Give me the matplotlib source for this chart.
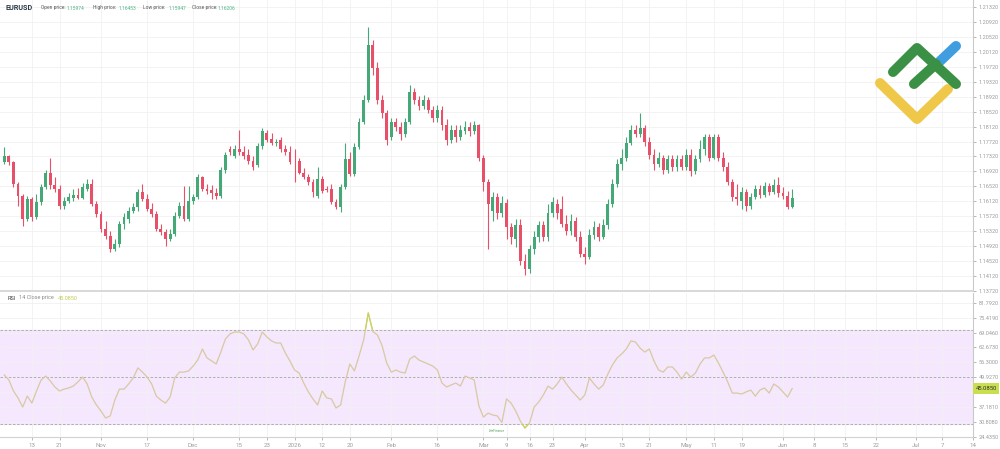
import numpy as np
import pandas as pd
import matplotlib
matplotlib.use("Agg")
import matplotlib.pyplot as plt
from matplotlib.lines import Line2D
from matplotlib.patches import Rectangle

# daily EURUSD bars (weekends, Dec 25 and Jan 1 skipped)
symbol = "EURUSD"
first_day = "2025-10-03"
last_day = "2026-06-03"
holidays = ["2025-12-25", "2026-01-01"]

opens = [
    1.1716, 1.1732, 1.1716, 1.1657, 1.1625, 1.1564, 1.1617, 1.1569, 1.1609, 1.1649,
    1.1689, 1.1655, 1.1644, 1.1599, 1.1612, 1.1620, 1.1628, 1.1620, 1.1644, 1.1657,
    1.1604, 1.1577, 1.1537, 1.1519, 1.1484, 1.1497, 1.1551, 1.1564, 1.1585, 1.1596,
    1.1636, 1.1617, 1.1591, 1.1577, 1.1537, 1.1529, 1.1511, 1.1524, 1.1572, 1.1599,
    1.1564, 1.1612, 1.1623, 1.1676, 1.1644, 1.1641, 1.1633, 1.1625, 1.1697, 1.1751,
    1.1732, 1.1753, 1.1745, 1.1737, 1.1721, 1.1708, 1.1759, 1.1796, 1.1780, 1.1767,
    1.1775, 1.1753, 1.1745, 1.1721, 1.1719, 1.1689, 1.1676, 1.1663, 1.1625, 1.1671,
    1.1644, 1.1644, 1.1609, 1.1596, 1.1649, 1.1724, 1.1684, 1.1756, 1.1825, 1.1884,
    1.2031, 1.1969, 1.1884, 1.1849, 1.1783, 1.1823, 1.1812, 1.1791, 1.1825, 1.1905,
    1.1884, 1.1868, 1.1884, 1.1857, 1.1836, 1.1857, 1.1817, 1.1777, 1.1804, 1.1783,
    1.1801, 1.1812, 1.1799, 1.1815, 1.1729, 1.1663, 1.1585, 1.1623, 1.1580, 1.1607,
    1.1543, 1.1511, 1.1548, 1.1452, 1.1431, 1.1484, 1.1516, 1.1548, 1.1516, 1.1580,
    1.1604, 1.1591, 1.1551, 1.1532, 1.1559, 1.1516, 1.1471, 1.1463, 1.1521, 1.1543,
    1.1516, 1.1548, 1.1604, 1.1657, 1.1711, 1.1729, 1.1769, 1.1804, 1.1791, 1.1809,
    1.1772, 1.1737, 1.1711, 1.1729, 1.1697, 1.1724, 1.1703, 1.1724, 1.1705, 1.1737,
    1.1692, 1.1724, 1.1751, 1.1783, 1.1729, 1.1785, 1.1729, 1.1703, 1.1663, 1.1623,
    1.1612, 1.1636, 1.1599, 1.1623, 1.1644, 1.1628, 1.1652, 1.1636, 1.1655, 1.1633,
    1.1625, 1.15974,
]
highs = [
    1.1756, 1.1737, 1.1721, 1.1663, 1.1631, 1.1625, 1.1623, 1.1631, 1.1657, 1.1697,
    1.1729, 1.1676, 1.1655, 1.1623, 1.1633, 1.1644, 1.1647, 1.1660, 1.1671, 1.1671,
    1.1612, 1.1585, 1.1559, 1.1532, 1.1511, 1.1559, 1.1580, 1.1596, 1.1607, 1.1644,
    1.1657, 1.1631, 1.1607, 1.1585, 1.1551, 1.1537, 1.1537, 1.1583, 1.1609, 1.1652,
    1.1652, 1.1631, 1.1684, 1.1681, 1.1657, 1.1655, 1.1647, 1.1703, 1.1745, 1.1759,
    1.1764, 1.1804, 1.1759, 1.1751, 1.1732, 1.1767, 1.1807, 1.1804, 1.1796, 1.1780,
    1.1785, 1.1764, 1.1759, 1.1751, 1.1729, 1.1700, 1.1684, 1.1671, 1.1703, 1.1679,
    1.1652, 1.1657, 1.1617, 1.1657, 1.1769, 1.1743, 1.1769, 1.1836, 1.1897, 1.2079,
    1.2044, 1.1985, 1.1897, 1.1857, 1.1836, 1.1836, 1.1825, 1.1836, 1.1924, 1.1916,
    1.1895, 1.1897, 1.1892, 1.1868, 1.1871, 1.1868, 1.1831, 1.1815, 1.1815, 1.1817,
    1.1828, 1.1823, 1.1828, 1.1820, 1.1735, 1.1671, 1.1636, 1.1633, 1.1625, 1.1617,
    1.1553, 1.1564, 1.1564, 1.1471, 1.1495, 1.1532, 1.1559, 1.1559, 1.1604, 1.1623,
    1.1617, 1.1625, 1.1575, 1.1577, 1.1569, 1.1532, 1.1489, 1.1537, 1.1559, 1.1553,
    1.1564, 1.1617, 1.1671, 1.1724, 1.1751, 1.1783, 1.1817, 1.1815, 1.1847, 1.1817,
    1.1783, 1.1751, 1.1745, 1.1737, 1.1735, 1.1737, 1.1737, 1.1735, 1.1751, 1.1751,
    1.1737, 1.1777, 1.1793, 1.1791, 1.1793, 1.1793, 1.1743, 1.1716, 1.1671, 1.1657,
    1.1649, 1.1644, 1.1633, 1.1655, 1.1655, 1.1665, 1.1660, 1.1671, 1.1676, 1.1649,
    1.1639, 1.16453,
]
lows = [
    1.1711, 1.1708, 1.1649, 1.1599, 1.1545, 1.1559, 1.1559, 1.1564, 1.1601, 1.1644,
    1.1644, 1.1636, 1.1591, 1.1591, 1.1607, 1.1612, 1.1617, 1.1617, 1.1639, 1.1599,
    1.1569, 1.1529, 1.1511, 1.1476, 1.1479, 1.1489, 1.1537, 1.1553, 1.1580, 1.1585,
    1.1612, 1.1585, 1.1569, 1.1532, 1.1521, 1.1492, 1.1505, 1.1519, 1.1567, 1.1559,
    1.1559, 1.1604, 1.1617, 1.1639, 1.1631, 1.1617, 1.1617, 1.1620, 1.1687, 1.1735,
    1.1727, 1.1737, 1.1724, 1.1711, 1.1697, 1.1703, 1.1753, 1.1772, 1.1764, 1.1761,
    1.1745, 1.1735, 1.1711, 1.1663, 1.1684, 1.1671, 1.1655, 1.1623, 1.1620, 1.1633,
    1.1636, 1.1604, 1.1591, 1.1583, 1.1644, 1.1679, 1.1679, 1.1751, 1.1820, 1.1879,
    1.1951, 1.1873, 1.1836, 1.1764, 1.1775, 1.1799, 1.1777, 1.1783, 1.1820, 1.1873,
    1.1857, 1.1860, 1.1849, 1.1825, 1.1825, 1.1804, 1.1764, 1.1769, 1.1772, 1.1775,
    1.1791, 1.1788, 1.1791, 1.1719, 1.1639, 1.1484, 1.1559, 1.1564, 1.1569, 1.1511,
    1.1497, 1.1489, 1.1441, 1.1415, 1.1420, 1.1471, 1.1503, 1.1505, 1.1505, 1.1569,
    1.1564, 1.1543, 1.1521, 1.1521, 1.1505, 1.1463, 1.1444, 1.1457, 1.1511, 1.1505,
    1.1511, 1.1537, 1.1596, 1.1649, 1.1697, 1.1719, 1.1764, 1.1783, 1.1783, 1.1761,
    1.1724, 1.1697, 1.1703, 1.1684, 1.1689, 1.1692, 1.1692, 1.1697, 1.1697, 1.1681,
    1.1684, 1.1716, 1.1737, 1.1719, 1.1724, 1.1719, 1.1692, 1.1655, 1.1612, 1.1601,
    1.1591, 1.1585, 1.1591, 1.1617, 1.1620, 1.1623, 1.1628, 1.1631, 1.1623, 1.1617,
    1.1591, 1.15947,
]
closes = [
    1.1732, 1.1716, 1.1657, 1.1625, 1.1564, 1.1617, 1.1569, 1.1609, 1.1649, 1.1689,
    1.1655, 1.1644, 1.1599, 1.1612, 1.1623, 1.1628, 1.1620, 1.1649, 1.1657, 1.1604,
    1.1577, 1.1537, 1.1519, 1.1484, 1.1497, 1.1551, 1.1569, 1.1585, 1.1596, 1.1636,
    1.1617, 1.1591, 1.1577, 1.1537, 1.1529, 1.1511, 1.1524, 1.1572, 1.1599, 1.1564,
    1.1612, 1.1623, 1.1676, 1.1644, 1.1639, 1.1633, 1.1625, 1.1697, 1.1737, 1.1743,
    1.1753, 1.1743, 1.1732, 1.1719, 1.1705, 1.1759, 1.1799, 1.1777, 1.1769, 1.1772,
    1.1751, 1.1743, 1.1716, 1.1719, 1.1689, 1.1676, 1.1663, 1.1636, 1.1671, 1.1639,
    1.1641, 1.1609, 1.1596, 1.1649, 1.1724, 1.1684, 1.1756, 1.1825, 1.1884, 1.2031,
    1.1969, 1.1884, 1.1849, 1.1777, 1.1823, 1.1812, 1.1791, 1.1825, 1.1905, 1.1884,
    1.1868, 1.1884, 1.1857, 1.1836, 1.1857, 1.1817, 1.1777, 1.1804, 1.1783, 1.1804,
    1.1812, 1.1799, 1.1815, 1.1729, 1.1663, 1.1604, 1.1623, 1.1580, 1.1607, 1.1543,
    1.1516, 1.1548, 1.1452, 1.1431, 1.1484, 1.1516, 1.1548, 1.1516, 1.1580, 1.1609,
    1.1580, 1.1551, 1.1532, 1.1559, 1.1516, 1.1471, 1.1463, 1.1521, 1.1543, 1.1516,
    1.1548, 1.1604, 1.1657, 1.1711, 1.1729, 1.1769, 1.1804, 1.1791, 1.1809, 1.1772,
    1.1737, 1.1711, 1.1729, 1.1697, 1.1724, 1.1703, 1.1724, 1.1705, 1.1737, 1.1692,
    1.1724, 1.1751, 1.1783, 1.1729, 1.1785, 1.1729, 1.1703, 1.1663, 1.1623, 1.1617,
    1.1636, 1.1599, 1.1623, 1.1644, 1.1628, 1.1652, 1.1636, 1.1655, 1.1633, 1.1625,
    1.1596, 1.16206,
]
rsi = [
    50.9, 48.7, 44.0, 41.0, 37.1, 41.8, 38.8, 44.0, 48.7, 50.4,
    48.3, 45.7, 44.0, 44.8, 45.3, 46.1, 47.9, 50.0, 47.0, 41.4,
    38.0, 35.4, 32.4, 33.3, 40.1, 44.8, 44.8, 47.0, 49.6, 53.9,
    52.1, 50.0, 47.0, 41.8, 40.1, 38.8, 41.4, 49.6, 52.1, 52.1,
    52.6, 54.7, 57.3, 62.0, 58.2, 56.9, 55.6, 60.7, 66.3, 68.5,
    69.3, 69.3, 68.5, 65.9, 61.6, 64.2, 69.3, 67.2, 65.5, 64.6,
    64.6, 60.3, 56.9, 53.0, 51.7, 47.4, 43.6, 40.6, 38.0, 44.0,
    41.0, 40.6, 36.7, 38.0, 47.9, 55.6, 52.6, 59.0, 65.9, 77.5,
    69.5, 68.0, 63.5, 56.0, 52.1, 53.0, 52.1, 51.7, 57.7, 59.0,
    57.3, 56.4, 55.6, 54.7, 53.0, 47.4, 45.7, 46.6, 47.4, 46.1,
    50.4, 49.6, 48.7, 37.6, 32.8, 34.5, 33.7, 33.3, 30.5, 40.6,
    38.8, 35.4, 31.1, 28.1, 30.3, 37.1, 39.3, 42.3, 46.1, 44.8,
    47.0, 50.0, 47.0, 44.4, 42.3, 40.1, 42.3, 49.6, 47.0, 44.8,
    46.6, 51.3, 55.2, 58.2, 59.9, 62.0, 65.5, 65.0, 62.4, 60.7,
    62.0, 56.9, 53.0, 52.1, 54.3, 54.3, 52.1, 49.1, 52.1, 50.0,
    51.7, 55.6, 58.2, 58.2, 59.4, 56.0, 52.1, 47.9, 43.1, 43.1,
    42.7, 43.6, 44.4, 41.8, 44.4, 45.3, 43.1, 47.0, 45.7, 43.6,
    41.4, 45.085,
]
rsi_levels = [30, 50, 70]

tick_dates = [
    "2025-10-13", "2025-10-21", "2025-11-03", "2025-11-17", "2025-12-01",
    "2025-12-15", "2025-12-23", "2026-01-02", "2026-01-12", "2026-01-20",
    "2026-02-02", "2026-02-16", "2026-03-02", "2026-03-09", "2026-03-16",
    "2026-03-23", "2026-04-01", "2026-04-13", "2026-04-21", "2026-05-01",
    "2026-05-11", "2026-05-19", "2026-06-01", "2026-06-08", "2026-06-15",
    "2026-06-22", "2026-07-01", "2026-07-07", "2026-07-14",
]
tick_labels = [
    "13", "21", "Nov", "17", "Dec", "15", "23", "2026", "12", "20",
    "Feb", "16", "Mar", "9", "16", "23", "Apr", "13", "21", "May",
    "11", "19", "Jun", "8", "15", "22", "Jul", "7", "14",
]
price_ticks = [
    1.13720, 1.14120, 1.14520, 1.14920, 1.15320, 1.15720, 1.16120, 1.16520,
    1.16920, 1.17320, 1.17720, 1.18120, 1.18520, 1.18920, 1.19320, 1.19720,
    1.20120, 1.20520, 1.20920, 1.21320,
]
rsi_ticks = [24.435, 30.808, 37.181, 43.554, 49.927, 56.300, 62.673, 69.046, 75.419, 81.792]

UP = "#45a877"
DOWN = "#e8506a"
GRID = "#f1f1f1"
LABEL = "#9c9c9c"
W, H = 1000, 449


def px(x, y):
    # pixel position of the 1000x449 canvas -> figure fraction
    return x / W, 1 - y / H


dates = pd.bdate_range(first_day, last_day)
dates = dates[~dates.isin(pd.to_datetime(holidays))]
xs = np.arange(len(dates))
o, h, l, c = (np.array(a) for a in (opens, highs, lows, closes))

future_step = 0.957  # blank area to the right runs on calendar days


def date_pos(d):
    d = pd.Timestamp(d)
    if d <= dates[-1]:
        return float(dates.searchsorted(d))
    return len(dates) - 1 + (d - dates[-1]).days * future_step


tick_pos = [date_pos(d) for d in tick_dates]
xlim = (-0.92, 209.4)

fig = plt.figure(figsize=(W / 100, H / 100), dpi=100)
fig.patch.set_facecolor("white")
ax = fig.add_axes([0, 1 - 291 / H, 973 / W, 291 / H])
ax2 = fig.add_axes([0, 1 - 437 / H, 973 / W, 144 / H])

# ---- price panel --------------------------------------------------------------
up = c >= o
col = np.where(up, UP, DOWN)
ax.vlines(xs, l, h, colors=col, linewidth=0.8, zorder=2)
ax.bar(xs, np.maximum(np.abs(c - o), 0.00008), bottom=np.minimum(o, c),
       width=0.62, color=col, linewidth=0, zorder=3)

ax.set_xlim(*xlim)
ax.set_ylim(1.13746, 1.21507)
ax.set_yticks(price_ticks)
ax.set_yticklabels([f"{t:.5f}" for t in price_ticks])
ax.set_xticks(tick_pos)
ax.tick_params(axis="x", length=0, labelbottom=False)

# ---- RSI panel ----------------------------------------------------------------
ax2.axhspan(rsi_levels[0], rsi_levels[-1], color="#f5e7fd", zorder=0)
for lv in rsi_levels:
    ax2.axhline(lv, color="#a5a5a5", lw=0.6, ls=(0, (3, 2)), zorder=1)
ax2.plot(xs, rsi, color="#d8c9a2", lw=0.9, zorder=3)
# parts outside the 30-70 band are tinted
for y0, y1 in ((rsi_levels[-1], 100), (0, rsi_levels[0])):
    hi, = ax2.plot(xs, rsi, color="#c9d45e", lw=0.9, zorder=4)
    clip = Rectangle((xlim[0], y0), xlim[1] - xlim[0], y1 - y0, transform=ax2.transData)
    hi.set_clip_path(clip)

ax2.set_xlim(*xlim)
ax2.set_ylim(24.25, 86.05)
ax2.set_yticks(rsi_ticks)
ax2.set_yticklabels([f"{t:.4f}" for t in rsi_ticks])
ax2.set_xticks(tick_pos)
ax2.set_xticklabels(tick_labels)

for a in (ax, ax2):
    a.set_facecolor("none")
    a.grid(color=GRID, lw=0.6, zorder=0)
    a.set_axisbelow(True)
    a.yaxis.tick_right()
    for s in ("top", "left"):
        a.spines[s].set_visible(False)
    a.spines["right"].set_color("#c9c9c9")
    a.spines["right"].set_linewidth(0.8)
    a.spines["bottom"].set_color("#d2d2d2")
    a.tick_params(axis="y", labelsize=4.0, colors=LABEL, length=2.5, width=0.5, pad=1.5)
    for t in a.get_yticklabels():
        t.set_family("Roboto")
ax.spines["bottom"].set_linewidth(1.2)
ax2.tick_params(axis="x", labelsize=4.4, colors=LABEL, length=2, width=0.5, pad=2.5)
for t in ax2.get_xticklabels():
    t.set_family("Roboto")

# current RSI value marker on the scale
ax2.text(1.0025, rsi[-1], f"{rsi[-1]:.4f}", transform=ax2.get_yaxis_transform(),
         fontsize=4.2, family="Roboto", color="#2e2e2e", va="center", ha="left",
         clip_on=False, zorder=10,
         bbox=dict(facecolor="#cadf4f", edgecolor="none", boxstyle="square,pad=0.45"))

# ---- header texts -------------------------------------------------------------
fig.text(*px(5, 8), symbol, fontsize=5.2, fontweight="bold", color="#2d3a4a",
         family="Roboto", va="center")
header = [("Open price:", opens[-1], 41), ("High price:", highs[-1], 93),
          ("Low price:", lows[-1], 143), ("Close price:", closes[-1], 192)]
for name, val, x0 in header:
    fig.text(*px(x0, 8), name, fontsize=3.5, color="#555", family="Roboto", va="center")
    fig.text(*px(x0 + 26, 8), f"{val:.5f}", fontsize=3.5, color="#4db385",
             family="Roboto", va="center")

fig.text(*px(8, 298), "RSI", fontsize=4.0, color="#3a3a3a", family="Roboto", va="center")
fig.text(*px(19, 298), "14 Close price", fontsize=4.0, color="#8c8c8c",
         family="Roboto", va="center")
fig.text(*px(58, 298), f"{rsi[-1]:.4f}", fontsize=4.0, color="#c4cd55",
         family="Roboto", va="center")

fig.text(*px(497, 431), "LiteFinance", fontsize=2.3, color="#4f9f55",
         family="Roboto", style="italic", ha="center", va="center")

# ---- LiteFinance logo ---------------------------------------------------------
def stroke(points, color):
    xx, yy = zip(*(px(x, y) for x, y in points))
    fig.add_artist(Line2D(xx, yy, transform=fig.transFigure, color=color, lw=7.2,
                          solid_capstyle="round", solid_joinstyle="round"))


stroke([(880, 83), (917, 119), (948, 89)], "#efc84a")
stroke([(937, 64), (956, 46)], "#3f9de0")
stroke([(893, 72), (917, 48), (956, 84)], "#3a9146")
stroke([(914, 84), (936, 64)], "#3a9146")

fig.savefig("out.png", dpi=100)
